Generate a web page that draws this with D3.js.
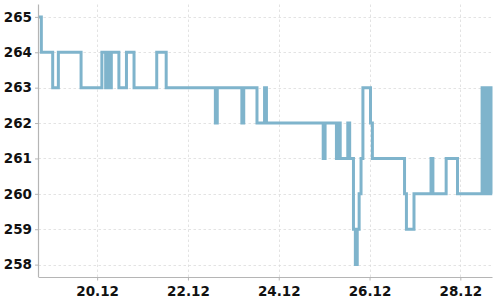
<!DOCTYPE html>
<html>
<head>
<meta charset="utf-8">
<script src="https://cdn.jsdelivr.net/npm/d3@7"></script>
<style>
  html, body { margin: 0; padding: 0; background: #fff; }
  svg { display: block; }
  .tick text { font-family: "DejaVu Sans", sans-serif; font-weight: bold; font-size: 13.5px; fill: #111; }
</style>
</head>
<body>
<svg id="chart" width="500" height="300"></svg>
<script>
// ---- data ----
const startTime = "2023-12-18T17:00:00";   // first hourly reading
const stepHours = 1;                        // readings are hourly
const values = [
  265, 265, 264, 264, 264, 264, 264, 264, 263, 263,
  263, 264, 264, 264, 264, 264, 264, 264, 264, 264,
  264, 264, 264, 263, 263, 263, 263, 263, 263, 263,
  263, 263, 263, 263, 264, 264, 263, 264, 263, 264,
  264, 264, 264, 263, 263, 263, 263, 264, 264, 264,
  264, 263, 263, 263, 263, 263, 263, 263, 263, 263,
  263, 263, 263, 264, 264, 264, 264, 264, 263, 263,
  263, 263, 263, 263, 263, 263, 263, 263, 263, 263,
  263, 263, 263, 263, 263, 263, 263, 263, 263, 263,
  263, 263, 263, 263, 262, 263, 263, 263, 263, 263,
  263, 263, 263, 263, 263, 263, 263, 263, 262, 263,
  263, 263, 263, 263, 263, 263, 262, 262, 262, 262,
  263, 262, 262, 262, 262, 262, 262, 262, 262, 262,
  262, 262, 262, 262, 262, 262, 262, 262, 262, 262,
  262, 262, 262, 262, 262, 262, 262, 262, 262, 262,
  262, 261, 262, 262, 262, 262, 262, 262, 261, 262,
  261, 261, 261, 261, 262, 261, 261, 259, 258, 259,
  260, 261, 263, 263, 263, 263, 262, 261, 261, 261,
  261, 261, 261, 261, 261, 261, 261, 261, 261, 261,
  261, 261, 261, 261, 260, 259, 259, 259, 259, 260,
  260, 260, 260, 260, 260, 260, 260, 260, 261, 260,
  260, 260, 260, 260, 260, 260, 261, 261, 261, 261,
  261, 261, 260, 260, 260, 260, 260, 260, 260, 260,
  260, 260, 260, 260, 260, 263, 260, 263, 260, 263,
  260
];
const xTickDates = ["2023-12-20", "2023-12-22", "2023-12-24", "2023-12-26", "2023-12-28"];
const yTickValues = [258, 259, 260, 261, 262, 263, 264, 265];

// ---- chart ----
const svg = d3.select("#chart");
const mLeft = 38.5, mRight = 492.5, mTop = 4.5, mBottom = 277;

const t0 = new Date(startTime);
const series = values.map((v, i) => ({ t: d3.timeHour.offset(t0, i * stepHours), v }));

const x = d3.scaleTime()
  .domain(d3.extent(series, d => d.t))
  .range([mLeft, mRight]);
const y = d3.scaleLinear()
  .domain([257.65, 265.35])
  .range([mBottom, mTop]);

const parseDay = d3.timeParse("%Y-%m-%d");
const xTicks = xTickDates.map(parseDay);

// grid
const grid = svg.append("g").attr("stroke", "#dcdcdc").attr("stroke-width", 0.8)
  .attr("stroke-dasharray", "2.5,2.5");
grid.selectAll("line.v").data(xTicks).join("line")
  .attr("x1", d => Math.round(x(d)) + 0.5).attr("x2", d => Math.round(x(d)) + 0.5)
  .attr("y1", mTop).attr("y2", mBottom);
grid.selectAll("line.h").data(yTickValues).join("line")
  .attr("x1", mLeft).attr("x2", mRight)
  .attr("y1", d => Math.round(y(d)) + 0.5).attr("y2", d => Math.round(y(d)) + 0.5);

// line
svg.append("clipPath").attr("id", "clip").append("rect")
  .attr("x", mLeft).attr("y", mTop).attr("width", mRight - mLeft).attr("height", mBottom - mTop);

const line = d3.line().curve(d3.curveStep).x(d => x(d.t)).y(d => y(d.v));
svg.append("path")
  .datum(series)
  .attr("clip-path", "url(#clip)")
  .attr("fill", "none")
  .attr("stroke", "#7fb4cc")
  .attr("stroke-width", 3)
  .attr("stroke-linejoin", "miter")
  .attr("d", line);

// axes
const xAxis = d3.axisBottom(x).tickValues(xTicks).tickFormat(d3.timeFormat("%d.%m"))
  .tickSize(3.5).tickPadding(6);
const gx = svg.append("g").attr("transform", `translate(0,${mBottom})`).call(xAxis);
gx.select(".domain").attr("d", `M${mLeft},0.5H${mRight}`);

const yAxis = d3.axisLeft(y).tickValues(yTickValues).tickFormat(d3.format("d"))
  .tickSize(3.5).tickPadding(3);
const gy = svg.append("g").attr("transform", `translate(${mLeft},0)`).call(yAxis);
gy.select(".domain").attr("d", `M0,${mTop}V${mBottom}`);

svg.selectAll(".domain").attr("stroke", "#b5b5b5").attr("stroke-width", 1.2);
svg.selectAll(".tick line").attr("stroke", "#b5b5b5");
</script>
</body>
</html>
